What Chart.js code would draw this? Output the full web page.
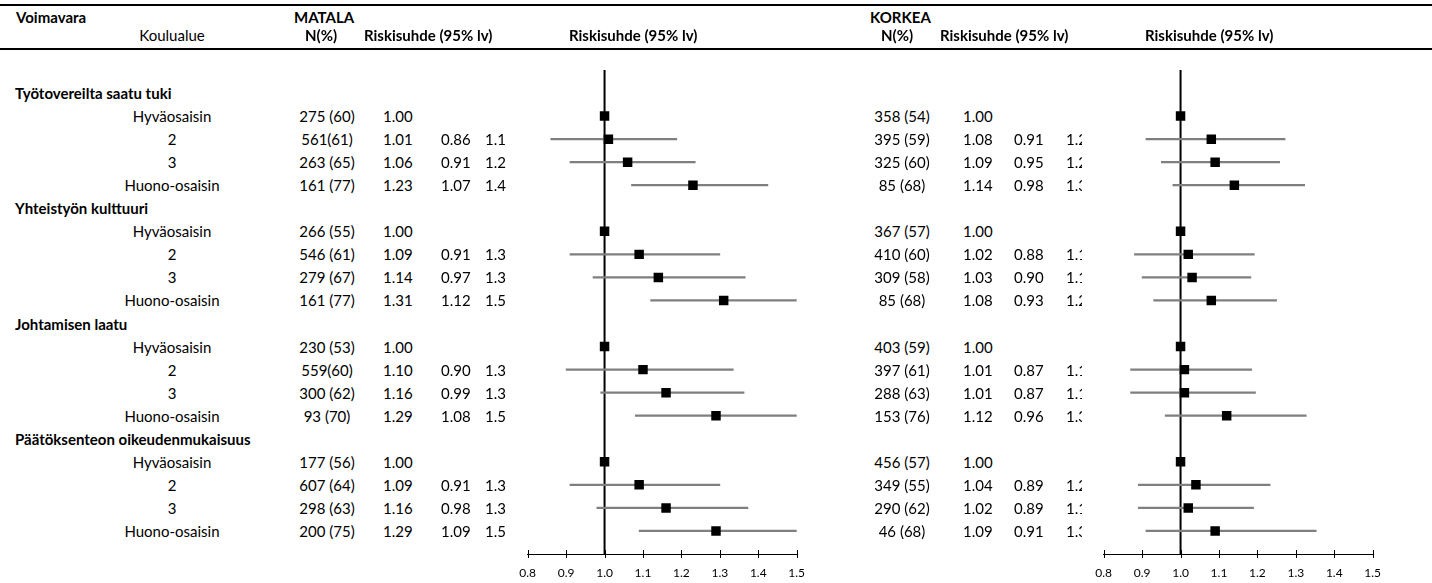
<!DOCTYPE html>
<html><head><meta charset="utf-8">
<script src="https://cdn.jsdelivr.net/npm/chart.js@4.4.1/dist/chart.umd.min.js"></script>
<style>
html,body{margin:0;padding:0;background:#fff;}
#page{position:relative;width:1432px;height:583px;overflow:hidden;font-family:Lato,"DejaVu Sans",sans-serif;font-size:15px;color:#000;}
.t{position:absolute;white-space:nowrap;line-height:20px;height:20px;}
.b{font-weight:bold;}
.c{transform:translateX(-50%);}
.rule{position:absolute;left:0;width:1432px;height:1.5px;background:#000;}
.cv{position:absolute;top:0;width:330px;height:583px;}
.clip{overflow:hidden;}
</style></head><body>
<div id="page">
  <div class="rule" style="top:4px"></div>
  <div class="rule" style="top:48px"></div>
  <div class="cv" style="left:500px"><canvas id="cL" width="330" height="583"></canvas></div>
  <div class="cv" style="left:1076px"><canvas id="cR" width="330" height="583"></canvas></div>
</div>
<script>
// ---------- DATA ----------
const groups = ["Työtovereilta saatu tuki", "Yhteistyön kulttuuri", "Johtamisen laatu", "Päätöksenteon oikeudenmukaisuus"];
const levels = ["Hyväosaisin", "2", "3", "Huono-osaisin"];

const matalaN  = ["275 (60)", "561(61)", "263 (65)", "161 (77)",
                  "266 (55)", "546 (61)", "279 (67)", "161 (77)",
                  "230 (53)", "559(60)", "300 (62)", "93 (70)",
                  "177 (56)", "607 (64)", "298 (63)", "200 (75)"];
const matalaRR = [1.00, 1.01, 1.06, 1.23,  1.00, 1.09, 1.14, 1.31,  1.00, 1.10, 1.16, 1.29,  1.00, 1.09, 1.16, 1.29];
const matalaLo = [null, 0.86, 0.91, 1.07,  null, 0.91, 0.97, 1.12,  null, 0.90, 0.99, 1.08,  null, 0.91, 0.98, 1.09];
const matalaHi = [null, 1.188, 1.236, 1.425, null, 1.30, 1.366, 1.50, null, 1.335, 1.363, 1.50, null, 1.30, 1.373, 1.50];

const korkeaN  = ["358 (54)", "395 (59)", "325 (60)", "85 (68)",
                  "367 (57)", "410 (60)", "309 (58)", "85 (68)",
                  "403 (59)", "397 (61)", "288 (63)", "153 (76)",
                  "456 (57)", "349 (55)", "290 (62)", "46 (68)"];
const korkeaRR = [1.00, 1.08, 1.09, 1.14,  1.00, 1.02, 1.03, 1.08,  1.00, 1.01, 1.01, 1.12,  1.00, 1.04, 1.02, 1.09];
const korkeaLo = [null, 0.91, 0.95, 0.98,  null, 0.88, 0.90, 0.93,  null, 0.87, 0.87, 0.96,  null, 0.89, 0.89, 0.91];
const korkeaHi = [null, 1.272, 1.258, 1.323, null, 1.192, 1.183, 1.25, null, 1.185, 1.195, 1.327, null, 1.233, 1.19, 1.353];

const xTicks = [0.8, 0.9, 1.0, 1.1, 1.2, 1.3, 1.4, 1.5];
const headerTexts = {voimavara: "Voimavara", koulualue: "Koulualue", matala: "MATALA", korkea: "KORKEA", n: "N(%)", rr: "Riskisuhde (95% lv)"};

// ---------- helpers ----------
const page = document.getElementById('page');
function addText(txt, x, y, opts) {
  opts = opts || {};
  const d = document.createElement('div');
  d.className = 't' + (opts.bold ? ' b' : '') + (opts.center ? ' c' : '') + (opts.clip ? ' clip' : '');
  d.textContent = txt;
  d.style.left = x + 'px';
  d.style.top = (y - 10) + 'px';
  if (opts.clip) d.style.width = opts.clip + 'px';
  page.appendChild(d);
  return d;
}
const rowLabels = [''];
groups.forEach(g => { rowLabels.push(g); levels.forEach(l => rowLabels.push(l)); });
rowLabels.push('');
function toRows(vals) {
  const out = [null];
  groups.forEach((g, gi) => { out.push(null); levels.forEach((l, li) => out.push(vals[gi * 4 + li])); });
  out.push(null);
  return out;
}
function ciRows(lo, hi) {
  const L = toRows(lo), H = toRows(hi);
  return L.map((v, i) => (v == null || H[i] == null) ? null : [v, H[i]]);
}

const refLine = {
  id: 'refLine',
  beforeDatasetsDraw(chart) {
    const x = chart.scales.x, a = chart.chartArea, ctx = chart.ctx;
    const px = x.getPixelForValue(1.0);
    ctx.save(); ctx.strokeStyle = '#000'; ctx.lineWidth = 2;
    ctx.beginPath(); ctx.moveTo(px, a.top); ctx.lineTo(px, a.bottom); ctx.stroke(); ctx.restore();
  },
  afterDraw(chart) {
    const x = chart.scales.x, ctx = chart.ctx, y = chart.chartArea.bottom;
    ctx.save(); ctx.strokeStyle = '#000'; ctx.lineWidth = 1;
    x.ticks.forEach(t => {
      const px = Math.round(x.getPixelForValue(t.value)) + 0.5;
      ctx.beginPath(); ctx.moveTo(px, y - 4); ctx.lineTo(px, y + 4); ctx.stroke();
    });
    ctx.restore();
  }
};

function makeChart(id, rr, lo, hi) {
  return new Chart(document.getElementById(id), {
    type: 'bar',
    data: {
      labels: rowLabels,
      datasets: [
        { type: 'line', indexAxis: 'y', data: toRows(rr), showLine: false, pointStyle: 'rect',
          pointRadius: 6.7, pointBackgroundColor: '#000', pointBorderWidth: 0, order: 1 },
        { type: 'bar', indexAxis: 'y', data: ciRows(lo, hi), backgroundColor: '#7f7f7f',
          barThickness: 1.6, borderWidth: 0, order: 2 }
      ]
    },
    options: {
      indexAxis: 'y',
      responsive: false, animation: false, devicePixelRatio: 1, events: [],
      layout: { padding: { left: 27.7, right: 33.3, top: 70, bottom: 0 } },
      plugins: { legend: { display: false }, tooltip: { enabled: false } },
      scales: {
        x: { type: 'linear', min: 0.8, max: 1.5, position: 'bottom',
             afterBuildTicks: s => { s.ticks = xTicks.map(v => ({ value: v })); },
             afterFit: s => { s.height = 29; },
             grid: { display: false, drawTicks: false },
             border: { display: true, color: '#000', width: 1 },
             ticks: { callback: v => Number(v).toFixed(1), font: { family: 'Lato', size: 12 }, color: '#000',
                      padding: 12, autoSkip: false, maxRotation: 0 } },
        y: { type: 'category', offset: false, display: false, grid: { display: false } }
      }
    },
    plugins: [refLine]
  });
}

const chartL = makeChart('cL', matalaRR, matalaLo, matalaHi);
const chartR = makeChart('cR', korkeaRR, korkeaLo, korkeaHi);

// ---------- table text ----------
const SHIFT = 576;
const H1 = 17, H2 = 35;
addText(headerTexts.voimavara, 16, H1, { bold: true });
addText(headerTexts.koulualue, 172, H2, { center: true });
[[headerTexts.matala, 0], [headerTexts.korkea, SHIFT]].forEach(([t, s]) => {
  addText(t, 294 + s, H1, { bold: true });
  addText(headerTexts.n, 305 + s, H2, { bold: true });
  addText(headerTexts.rr, 364 + s, H2, { bold: true });
  addText(headerTexts.rr, 569 + s, H2, { bold: true });
});

const ys = chartL.scales.y;
const fmtTrunc = v => (Math.floor(v * 10 + 1e-9) / 10).toFixed(1);
groups.forEach((g, gi) => {
  const gRow = gi * 5 + 1;
  addText(g, 15, ys.getPixelForValue(gRow), { bold: true });
  levels.forEach((l, li) => {
    const k = gi * 4 + li;
    const y = ys.getPixelForValue(gRow + 1 + li);
    addText(l, 172, y, { center: true });
    addText(matalaN[k], 327, y, { center: true });
    addText(matalaRR[k].toFixed(2), 383, y);
    if (matalaLo[k] != null) {
      addText(matalaLo[k].toFixed(2), 441, y);
      addText(fmtTrunc(matalaHi[k]), 485, y);
    }
    addText(korkeaN[k], 902, y, { center: true });
    addText(korkeaRR[k].toFixed(2), 963, y);
    if (korkeaLo[k] != null) {
      addText(korkeaLo[k].toFixed(2), 1014, y);
      addText(fmtTrunc(korkeaHi[k]), 1066, y, { clip: 15.5 });
    }
  });
});
</script>
</body></html>
